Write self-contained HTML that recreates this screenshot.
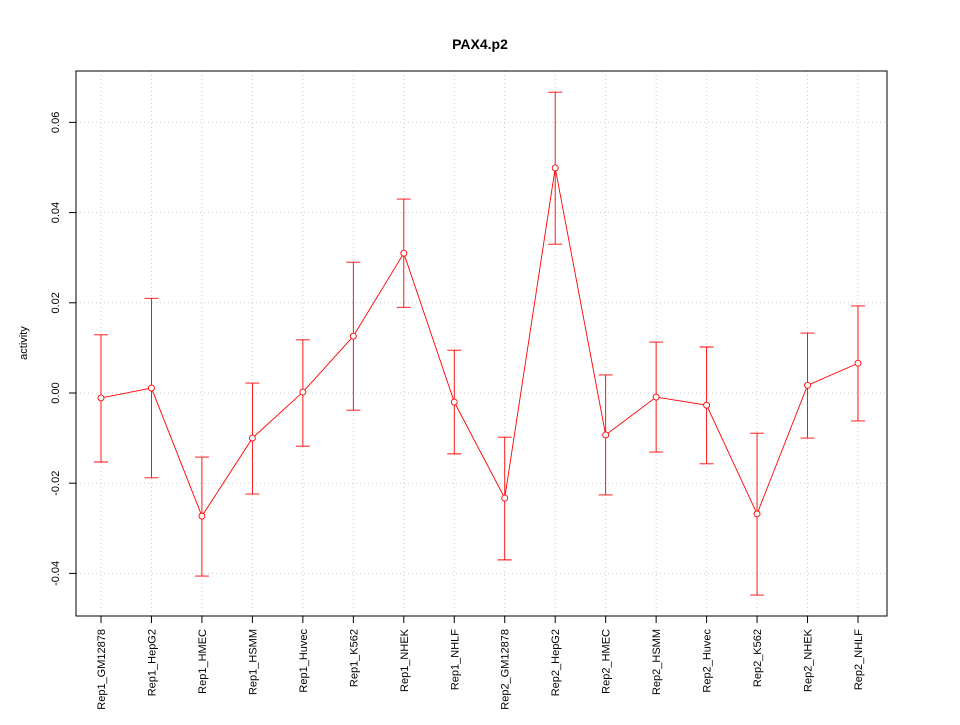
<!DOCTYPE html>
<html><head><meta charset="utf-8"><style>
body{margin:0;background:#fff}
svg text{font-family:"Liberation Sans",sans-serif;fill:#000}
</style></head><body>
<svg id="chart" width="960" height="720">
<text x="480" y="49" text-anchor="middle" font-size="14" font-weight="bold">PAX4.p2</text>
<text transform="translate(27,343) rotate(-90)" text-anchor="middle" font-size="11">activity</text>
<g id="grid"></g><g id="axes"></g><g id="marks"></g>
<rect x="76" y="71" width="811" height="545" fill="none" stroke="#000"/>
</svg>
<script>
const categories=["Rep1_GM12878","Rep1_HepG2","Rep1_HMEC","Rep1_HSMM","Rep1_Huvec","Rep1_K562","Rep1_NHEK","Rep1_NHLF","Rep2_GM12878","Rep2_HepG2","Rep2_HMEC","Rep2_HSMM","Rep2_Huvec","Rep2_K562","Rep2_NHEK","Rep2_NHLF"];
const values=[-0.0011,0.0011,-0.0273,-0.0100,0.0002,0.0126,0.0310,-0.0020,-0.0233,0.0499,-0.0093,-0.0009,-0.0027,-0.0268,0.0017,0.0066];
const upper=[0.0129,0.0210,-0.0142,0.0022,0.0118,0.0290,0.0430,0.0095,-0.0098,0.0667,0.0040,0.0113,0.0102,-0.0089,0.0133,0.0193];
const lower=[-0.0153,-0.0188,-0.0406,-0.0224,-0.0118,-0.0038,0.0190,-0.0135,-0.0370,0.0330,-0.0226,-0.0131,-0.0157,-0.0448,-0.0100,-0.0062];
const yTicks=[-0.04,-0.02,0,0.02,0.04,0.06];
const yTickLabels=["-0.04","-0.02","0.00","0.02","0.04","0.06"];
const NS="http://www.w3.org/2000/svg";
const xs=i=>101+i*(858-101)/(categories.length-1);
const ys=v=>393-v*4510;
function mk(parent,tag,attrs){const e=document.createElementNS(NS,tag);for(const k in attrs)e.setAttribute(k,attrs[k]);document.getElementById(parent).appendChild(e);return e;}
categories.forEach((c,i)=>{
 let g=mk('grid','line',{x1:xs(i),x2:xs(i),y1:71,y2:616,stroke:'#ccc','stroke-dasharray':'1,3'});
 
 
 let t=mk('axes','line',{x1:xs(i),x2:xs(i),y1:616,y2:623,stroke:'#000'});
 
 
 let l=mk('axes','text',{transform:`translate(${xs(i)+4},629) rotate(-90)`,'text-anchor':'end','font-size':'11'});
 l.textContent=c;
 
 
});
yTicks.forEach((v,i)=>{
 let g=mk('grid','line',{x1:76,x2:887,y1:ys(v),y2:ys(v),stroke:'#ccc','stroke-dasharray':'1,3'});
 
 
 let t=mk('axes','line',{x1:69,x2:76,y1:ys(v),y2:ys(v),stroke:'#000'});
 
 
 let l=mk('axes','text',{transform:`translate(59,${ys(v)}) rotate(-90)`,'text-anchor':'middle','font-size':'11'});
 l.textContent=yTickLabels[i];
 
 
});
let line=mk('marks','polyline',{points:values.map((v,i)=>xs(i)+','+ys(v)).join(' '),fill:'none',stroke:'#f00','stroke-width':'0.9'});


values.forEach((v,i)=>{
 const x=xs(i);
 let e=mk('marks','path',{d:`M${x},${ys(lower[i])}V${ys(upper[i])}M${x-7},${ys(upper[i])}H${x+7}M${x-7},${ys(lower[i])}H${x+7}`,stroke:'#f00',fill:'none','stroke-width':'0.9'});
 
 
 let p=mk('marks','circle',{cx:x,cy:ys(v),r:3,fill:'#fff',stroke:'#f00','stroke-width':'0.9'});
 
 
});
</script>
</body></html>
